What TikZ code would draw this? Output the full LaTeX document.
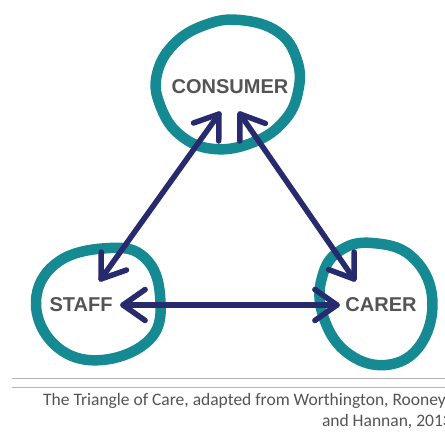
\documentclass[tikz,border=0pt]{standalone}
\usepackage{fontspec}
\setmainfont{Carlito}
\newfontfamily\labelfont{Liberation Sans}
\usetikzlibrary{calc,positioning}
\definecolor{teal}{HTML}{168A93}
\definecolor{navy}{HTML}{272A6C}
\definecolor{textgray}{HTML}{545454}
\definecolor{rulegray}{HTML}{B4B4B4}
% open chevron head at #1, pointing away from #2
\newcommand{\chevronhead}[2]{%
  \draw[link,line join=round] ($(#1)!27pt!35:(#2)$) -- (#1) -- ($(#1)!27pt!-35:(#2)$);}

\begin{document}
\begin{tikzpicture}[x=1pt,y=-1pt,
  blob/.style={draw=teal,line width=10.5pt,line join=round},
  role/.style={font=\labelfont\bfseries\fontsize{20}{24}\selectfont,text=textgray,inner sep=0pt},
  link/.style={draw=navy,line width=5.5pt,line cap=round},
  caption/.style={font=\fontsize{17.5}{21}\selectfont,text=textgray,inner sep=0pt}]
\useasboundingbox (0,0) rectangle (445,445);
\fill[white] (0,0) rectangle (445,445);
% rings
\draw[blob] plot[smooth cycle,tension=0.7] coordinates {(240,20) (278,32) (297,60) (298,92) (284,121) (254,142) (214,149) (180,135) (160,105) (157,74) (174,44) (205,25)};
\draw[blob] plot[smooth cycle,tension=0.7] coordinates {(110,248) (145,258) (160,295) (151,338) (102,360) (56,346) (36,302) (58,262)};
\draw[blob] plot[smooth cycle,tension=0.7] coordinates {(372,243) (411,256) (432,296) (421,344) (386,365) (345,351) (322,312) (323,274) (341,250)};
% labels
\node[role] (consumer) at (230,87) {CONSUMER};
\node[role] (staff) at (81,305) {STAFF};
\node[role] (carer) at (381,305) {CARER};
% arrow ends
\coordinate (con-l) at (219,114);
\coordinate (con-r) at (240,114);
\coordinate (sta-t) at (101,279);
\coordinate (sta-r) at (123,305);
\coordinate (car-t) at (354,279);
\coordinate (car-l) at (337,305);
\draw[link] (con-l) -- (sta-t);
\draw[link] (con-r) -- (car-t);
\draw[link] (sta-r) -- (car-l);
\chevronhead{con-l}{sta-t}
\chevronhead{sta-t}{con-l}
\chevronhead{con-r}{car-t}
\chevronhead{car-t}{con-r}
\chevronhead{sta-r}{car-l}
\chevronhead{car-l}{sta-r}
% caption
\draw[rulegray,line width=1pt] (12,378) coordinate (rule1) -- (445,378);
\draw[rulegray,line width=0.8pt] (12,387) coordinate (rule2) -- (445,387);
\node[caption,anchor=west] (cap1) at (43,401) {The Triangle of Care, adapted from Worthington, Rooney};
\node[caption,anchor=east] (cap2) at (452,422) {and Hannan, 2013};
\end{tikzpicture}
\end{document}
